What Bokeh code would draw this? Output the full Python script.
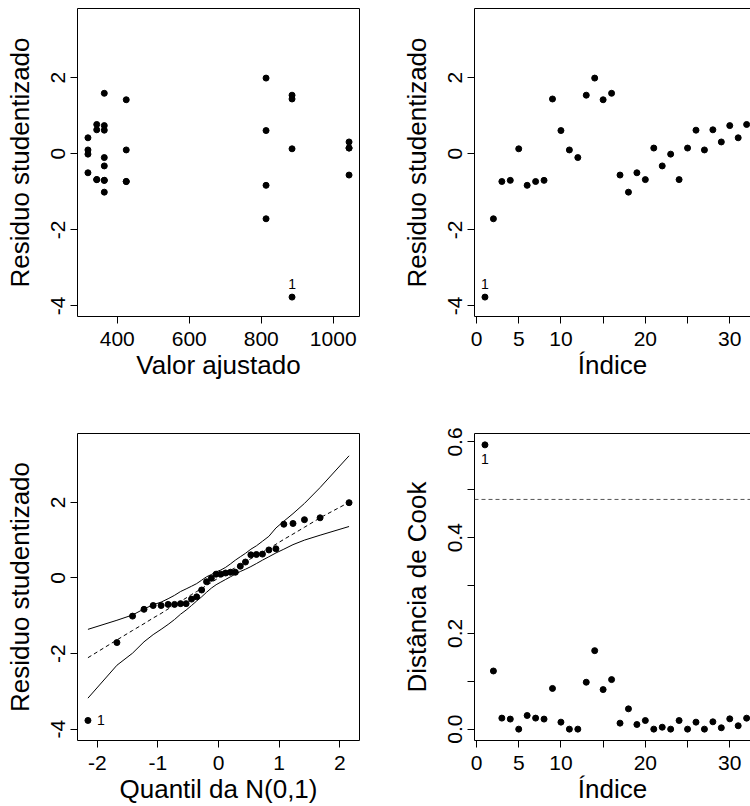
from bokeh.plotting import figure
from bokeh.models import Range1d, FixedTicker, LinearAxis, Span
from bokeh.layouts import column, row
from bokeh.embed import file_html
from bokeh.resources import INLINE
from bokeh.core.properties import value

FONT = "Liberation Sans"

# ---- data ----
indice = list(range(1, 33))
valor_ajustado = [885.6, 813.4, 425.0, 364.0, 885.6, 813.4, 425.0, 364.0,
                  885.6, 813.4, 425.0, 364.0, 885.6, 813.4, 425.0, 364.0,
                  1044.0, 364.0, 318.6, 343.0, 1044.0, 364.0, 318.6, 343.0,
                  1044.0, 364.0, 318.6, 343.0, 1044.0, 364.0, 318.6, 343.0]
residuo = [-3.77, -1.71, -0.73, -0.70, 0.13, -0.83, -0.73, -0.70,
           1.44, 0.61, 0.10, -0.10, 1.54, 1.99, 1.42, 1.59,
           -0.56, -1.01, -0.50, -0.68, 0.15, -0.32, -0.01, -0.68,
           0.15, 0.62, 0.10, 0.63, 0.31, 0.74, 0.42, 0.77]
cook = [0.594, 0.1215, 0.023, 0.021, 0.0, 0.0285, 0.023, 0.021,
        0.085, 0.0146, 0.0, 0.0, 0.098, 0.164, 0.0826, 0.1035,
        0.0125, 0.0424, 0.0097, 0.018, 0.0, 0.004, 0.0, 0.018,
        0.0, 0.0146, 0.0, 0.0153, 0.0028, 0.0215, 0.007, 0.0229]
cook_corte = 0.48
quantil = [-2.154, -1.676, -1.418, -1.229, -1.078, -0.947, -0.831, -0.725,
           -0.626, -0.534, -0.445, -0.360, -0.278, -0.197, -0.118, -0.039,
           0.039, 0.118, 0.197, 0.278, 0.360, 0.445, 0.534, 0.626,
           0.725, 0.831, 0.947, 1.078, 1.229, 1.418, 1.676, 2.154]
env_sup = [-1.36, -1.12, -0.98, -0.82, -0.71, -0.64, -0.55, -0.46,
           -0.36, -0.29, -0.22, -0.15, -0.06, 0.03, 0.09, 0.16,
           0.21, 0.28, 0.37, 0.47, 0.56, 0.65, 0.76, 0.85,
           0.97, 1.10, 1.32, 1.50, 1.70, 1.97, 2.39, 3.23]
env_inf = [-3.18, -2.31, -1.99, -1.69, -1.50, -1.36, -1.23, -1.10,
           -0.96, -0.85, -0.73, -0.61, -0.50, -0.38, -0.27, -0.18,
           -0.11, -0.04, 0.03, 0.10, 0.17, 0.23, 0.30, 0.38,
           0.47, 0.56, 0.66, 0.76, 0.88, 1.00, 1.13, 1.36]
env_med = [-2.11, -1.64, -1.39, -1.21, -1.06, -0.94, -0.82, -0.72,
           -0.62, -0.53, -0.44, -0.36, -0.28, -0.20, -0.12, -0.04,
           0.05, 0.12, 0.20, 0.27, 0.35, 0.43, 0.51, 0.59,
           0.68, 0.78, 0.89, 1.02, 1.16, 1.34, 1.59, 2.00]

ticks_ajust = [400, 600, 800, 1000]
ticks_ind = [0, 5, 10, 15, 20, 25, 30]
ticks_res = [-4, -2, 0, 2]
ticks_q = [-2, -1, 0, 1, 2]
ticks_cook = [0.0, 0.1, 0.2, 0.3, 0.4, 0.5, 0.6]
lab_ind = ["0", "5", "10", "", "20", "", "30"]
lab_res = ["-4", "-2", "0", "2"]
lab_q = ["-2", "-1", "0", "1", "2"]
lab_cook = ["0.0", "", "0.2", "", "0.4", "", "0.6"]


def rrange(lo, hi):
    d = 0.04 * (hi - lo)
    return lo - d, hi + d


def axis_style(ax, vertical=False):
    ax.axis_line_color = "black"
    ax.axis_line_width = 1
    ax.major_tick_line_color = "black"
    ax.major_tick_out = 7
    ax.major_tick_in = 0
    ax.minor_tick_out = 0
    ax.minor_tick_in = 0
    ax.major_label_text_font = FONT
    ax.major_label_text_font_size = "21px"
    ax.major_label_text_color = "black"
    ax.axis_label_text_font = FONT
    ax.axis_label_text_font_size = "26px"
    ax.axis_label_text_font_style = "normal"
    ax.axis_label_text_color = "black"
    ax.major_label_standoff = 8
    ax.axis_label_standoff = 1
    if vertical:
        ax.major_label_orientation = "vertical"
        ax.major_label_standoff = 5
        ax.axis_label_standoff = 14


def make_fig(xr, yr, bl, br, bt, bb, xticks, yticks, xlabel, ylabel,
             xlabs=None, ylabs=None, closed_right=True):
    p = figure(width=375, height=403, x_range=Range1d(*xr), y_range=Range1d(*yr),
               output_backend="svg", toolbar_location=None,
               x_axis_location=None, y_axis_location=None,
               min_border_left=bl, min_border_right=br,
               min_border_top=bt, min_border_bottom=bb,
               background_fill_color="white", border_fill_color="white")
    p.outline_line_color = None
    p.grid.visible = False
    xa = LinearAxis(ticker=FixedTicker(ticks=xticks), axis_label=xlabel)
    axis_style(xa)
    if xlabs:
        xa.major_label_overrides = dict(zip(xticks, xlabs))
    ya = LinearAxis(ticker=FixedTicker(ticks=yticks), axis_label=ylabel)
    axis_style(ya, vertical=True)
    if ylabs:
        ya.major_label_overrides = dict(zip(yticks, ylabs))
    p.add_layout(xa, "below")
    p.add_layout(ya, "left")
    ta = LinearAxis(ticker=FixedTicker(ticks=[]), axis_line_color="black",
                    major_tick_out=0, major_tick_in=0, minor_tick_out=0)
    p.add_layout(ta, "above")
    if closed_right:
        ra = LinearAxis(ticker=FixedTicker(ticks=[]), axis_line_color="black",
                        major_tick_out=0, major_tick_in=0, minor_tick_out=0)
        p.add_layout(ra, "right")
    return p


def label1(p, x, y, dx=0, dy=0):
    p.text(x=[x], y=[y], text=["1"], text_font=value(FONT), text_font_size="14px",
           text_color="black", text_align="center", text_baseline="middle",
           x_offset=dx, y_offset=dy)


yr_res = (-4.28, 3.82)

# visible part of the right-hand panels (the frame is cut by the picture's edge)
ind_lo, ind_hi = rrange(1, 32)
ind_vis = (ind_lo, ind_lo + (ind_hi - ind_lo) * 276.0 / 282.6)

# Panel 1: residuo vs valor ajustado
p1 = make_fig(rrange(min(valor_ajustado), max(valor_ajustado)), yr_res, 77, 16, 8, 87,
              ticks_ajust, ticks_res, "Valor ajustado", "Residuo studentizado",
              ylabs=lab_res)
p1.scatter(valor_ajustado, residuo, size=6, color="black")
label1(p1, valor_ajustado[0], residuo[0], dy=-13)

# Panel 2: residuo vs indice
p2 = make_fig(ind_vis, yr_res, 99, 0, 8, 87, ticks_ind, ticks_res,
              "Índice", "Residuo studentizado", xlabs=lab_ind, ylabs=lab_res,
              closed_right=False)
p2.scatter(indice, residuo, size=6, color="black")
label1(p2, indice[0], residuo[0], dy=-13)

# Panel 3: QQ plot with envelope
res_ord = sorted(residuo)
p3 = make_fig(rrange(min(quantil), max(quantil)), (-4.30, 3.82), 77, 16, 30, 65,
              ticks_q, ticks_res, "Quantil da N(0,1)", "Residuo studentizado",
              xlabs=lab_q, ylabs=lab_res)
p3.line(quantil, env_sup, color="black", line_width=1)
p3.line(quantil, env_inf, color="black", line_width=1)
p3.line(quantil, env_med, color="black", line_width=1, line_dash="4 3")
p3.scatter(quantil, res_ord, size=6, color="black")
label1(p3, quantil[0], res_ord[0], dx=13)

# Panel 4: Cook distance
p4 = make_fig(ind_vis, rrange(0, max(cook)), 99, 0, 30, 65, ticks_ind, ticks_cook,
              "Índice", "Distância de Cook", xlabs=lab_ind, ylabs=lab_cook,
              closed_right=False)
p4.add_layout(Span(location=cook_corte, dimension="width", line_color="#555555",
                   line_width=1, line_dash="4 3"))
p4.scatter(indice, cook, size=6, color="black")
label1(p4, indice[0], cook[0], dy=14)

layout = column(row(p1, p2), row(p3, p4))
open("out.html", "w").write(file_html(layout, INLINE))
